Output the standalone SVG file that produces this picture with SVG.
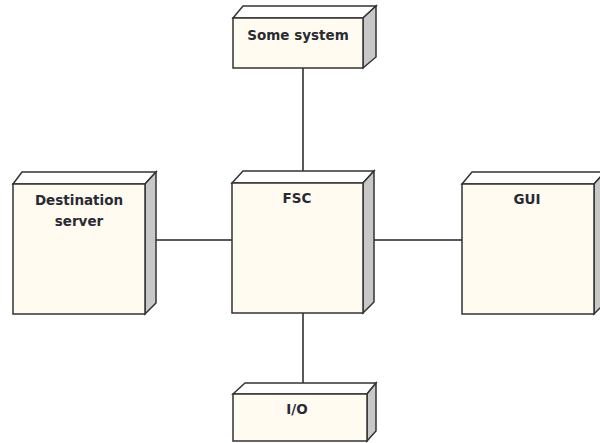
<svg xmlns="http://www.w3.org/2000/svg" width="600" height="443" viewBox="0 0 600 443">
<style>
.front{fill:#fffbf0;stroke:#333;stroke-width:1.5}
.top{fill:#ffffff;stroke:#333;stroke-width:1.5}
.side{fill:#c8c8c8;stroke:#333;stroke-width:1.5}
.lbl{font-family:"DejaVu Sans",Verdana,sans-serif;font-weight:bold;font-size:13.5px;fill:#2a2a33;text-anchor:middle}
.conn{stroke:#222;stroke-width:1.5;fill:none}
</style>
<rect width="600" height="443" fill="#ffffff"/>
<g id="connectors">
<line class="conn" x1="303" y1="68" x2="303" y2="171"/>
<line class="conn" x1="303" y1="313" x2="303" y2="383"/>
<line class="conn" x1="156" y1="240" x2="232" y2="240"/>
<line class="conn" x1="374" y1="240" x2="462" y2="240"/>
</g>
<g id="some-system">
<polygon class="top" points="233,18 243,6 376,6 363,18"/>
<polygon class="side" points="363,18 376,6 376,57 363,68"/>
<rect class="front" x="233" y="18" width="130" height="50"/>
<text class="lbl" x="298" y="40">Some system</text>
</g>
<g id="destination-server">
<polygon class="top" points="13,184 22,172 156,172 145,184"/>
<polygon class="side" points="145,184 156,172 156,303 145,314"/>
<rect class="front" x="13" y="184" width="132" height="130"/>
<text class="lbl" x="79" y="205">Destination</text>
<text class="lbl" x="79" y="226">server</text>
</g>
<g id="fsc">
<polygon class="top" points="232,183 243,171 374,171 363,183"/>
<polygon class="side" points="363,183 374,171 374,302 363,313"/>
<rect class="front" x="232" y="183" width="131" height="130"/>
<text class="lbl" x="297" y="203">FSC</text>
</g>
<g id="gui">
<polygon class="top" points="462,184 472,172 605,172 594,184"/>
<polygon class="side" points="594,184 605,172 605,303 594,314"/>
<rect class="front" x="462" y="184" width="132" height="130"/>
<text class="lbl" x="527" y="204">GUI</text>
</g>
<g id="io">
<polygon class="top" points="233,394 245,383 376,383 367,394"/>
<polygon class="side" points="367,394 376,383 376,431 367,441"/>
<rect class="front" x="233" y="394" width="134" height="47"/>
<text class="lbl" x="297" y="414">I/O</text>
</g>
</svg>
